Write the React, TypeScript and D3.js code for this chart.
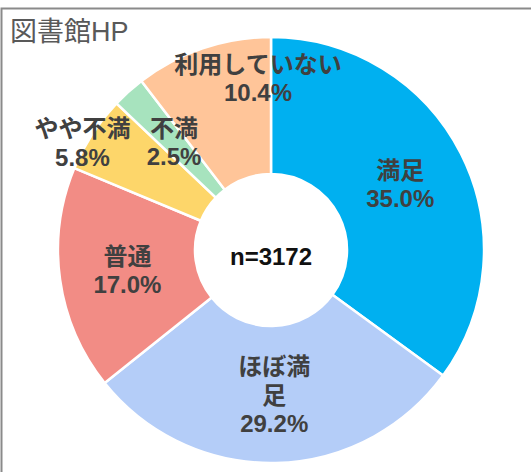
import React from "react";
import * as d3 from "d3";

const categories = ["満足", "ほぼ満足", "普通", "やや不満", "不満", "利用していない"];
const values = [35.0, 29.2, 17.0, 5.8, 2.5, 10.4];
const labelLines = [["満足"], ["ほぼ満", "足"], ["普通"], ["やや不満"], ["不満"], ["利用していない"]];
const colors = ["#00B0F0", "#B4CDF8", "#F28C85", "#FDD66A", "#A7E3BE", "#FFC599"];
const title = "図書館HP";
const centerText = "n=3172";

const W = 531;
const H = 472;

export default function App() {
  const cx = 271;
  const cy = 250;
  const outerR = 213;
  const innerR = 76;
  const labelR = 145;
  const font = "'Liberation Sans', Arial, 'Noto Sans CJK JP', sans-serif";

  // label placement tweaks for crowded small slices: [angle shift (deg), radius]
  const labelTweak: Record<string, [number, number]> = {
    "やや不満": [-3.4, 217],
    "利用していない": [14.4, 172],
  };

  const data = categories.map((c, i) => ({ c, v: values[i], i }));
  const pie = d3.pie<any>().value((d) => d.v).sort(null);
  const arcs = pie(data);
  const arc = d3.arc<any>().innerRadius(innerR).outerRadius(outerR);

  const lineH = 28.5;
  const fs = 24;

  return (
    <svg
      width={W}
      height={H}
      style={{ position: "absolute", left: 0, top: 0, background: "#fff" }}
    >
      <rect x={1.5} y={8.5} width={W + 20} height={H + 20} fill="#fff" stroke="#8a8a8a" strokeWidth={2} />
      <text x={10} y={41} fontFamily={font} fontSize={27} fill="#595959">
        {title}
      </text>
      <g transform={`translate(${cx},${cy})`}>
        {arcs.map((a, i) => (
          <path key={i} d={arc(a) as string} fill={colors[i]} stroke="#fff" strokeWidth={2.5} />
        ))}
        {arcs.map((a, i) => {
          const cat = categories[i];
          let ang = (a.startAngle + a.endAngle) / 2;
          let r = labelR;
          const tw = labelTweak[cat];
          if (tw) {
            ang += (tw[0] * Math.PI) / 180;
            r = tw[1];
          }
          const x = r * Math.sin(ang);
          const y = -r * Math.cos(ang);
          const lines = [...labelLines[i], `${values[i].toFixed(1)}%`];
          const top = y - ((lines.length - 1) * lineH) / 2;
          return (
            <text
              key={"l" + i}
              textAnchor="middle"
              fontFamily={font}
              fontSize={fs}
              fontWeight="bold"
              fill="#404040"
            >
              {lines.map((ln, j) => (
                <tspan key={j} x={x} y={top + j * lineH} dy="0.36em">
                  {ln}
                </tspan>
              ))}
            </text>
          );
        })}
        <text
          x={0}
          y={15}
          textAnchor="middle"
          fontFamily={font}
          fontSize={24}
          fontWeight="bold"
          fill="#111"
        >
          {centerText}
        </text>
      </g>
    </svg>
  );
}
